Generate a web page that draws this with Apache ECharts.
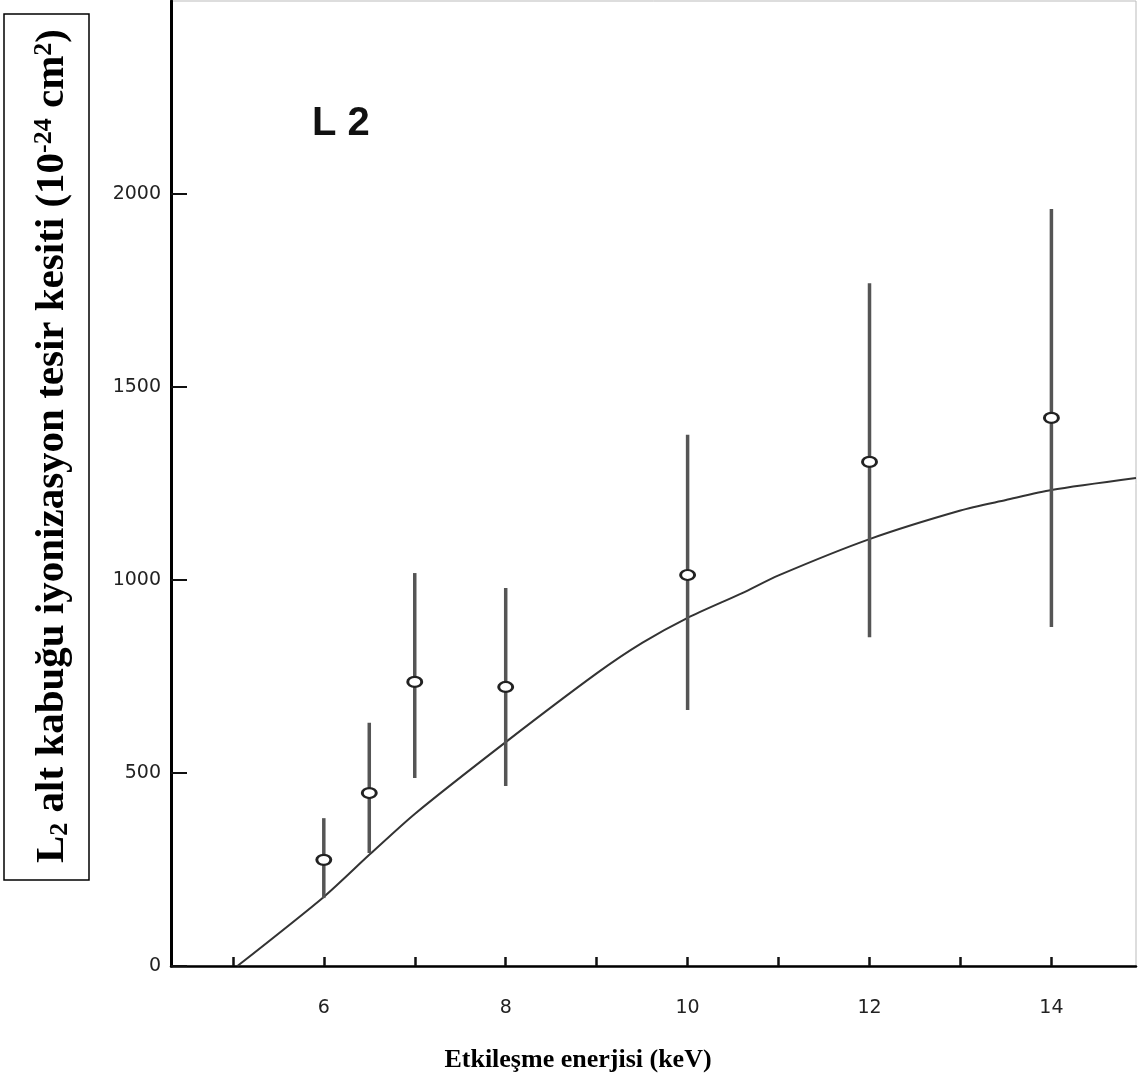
<!DOCTYPE html>
<html>
<head>
<meta charset="utf-8">
<script src="https://cdn.jsdelivr.net/npm/echarts@6/dist/echarts.min.js"></script>
<style>html,body{margin:0;padding:0;background:#fff;}#c{width:1138px;height:1086px;}</style>
</head>
<body>
<div id="c"></div>
<script>
// Measured points (energy keV, cross section 10^-24 cm^2)
var energies = [6, 6.5, 7, 8, 10, 12, 14];
var values   = [275, 448, 736, 723, 1013, 1306, 1420];
var errLow   = [176, 293, 487, 466, 663, 852, 878];
var errHigh  = [383, 630, 1018, 979, 1376, 1769, 1961];

// Theoretical curve
var curveX = [5.05, 6, 6.5, 7, 8, 9, 9.5, 10, 10.6, 11, 12, 13, 13.5, 14, 14.93];
var curveY = [0, 179, 288, 394, 580, 758, 837, 902, 966, 1012, 1106, 1180, 1207, 1233, 1264];

// Tick labels
var xTickValues = [5, 6, 7, 8, 9, 10, 11, 12, 13, 14];
var xLabelValues = [6, 8, 10, 12, 14];
var yTickValues = [0, 500, 1000, 1500, 2000];

var pointData = energies.map(function (e, i) { return [e, values[i]]; });
var errData = energies.map(function (e, i) { return [e, errLow[i], errHigh[i]]; });
var curveData = curveX.map(function (e, i) { return [e, curveY[i]]; });

var chart = echarts.init(document.getElementById('c'));
chart.setOption({
  animation: false,
  backgroundColor: '#fff',
  grid: { left: 171, right: 2, top: 1, bottom: 120, show: true, borderColor: '#bbb', borderWidth: 1 },
  xAxis: {
    type: 'value', min: 4.32, max: 14.93,
    splitLine: { show: false },
    axisLine: { show: true, onZero: false, lineStyle: { color: '#000', width: 2.5 } },
    axisTick: { show: true, inside: true, length: 9, customValues: xTickValues, lineStyle: { color: '#111', width: 2.5 } },
    axisLabel: { customValues: xLabelValues, margin: 33, fontFamily: 'DejaVu Sans', fontSize: 19, color: '#222',
                 formatter: function (v) { return String(v); } }
  },
  yAxis: {
    type: 'value', min: 0, max: 2500,
    splitLine: { show: false },
    axisLine: { show: true, lineStyle: { color: '#000', width: 3 } },
    axisTick: { show: true, inside: true, length: 16, customValues: yTickValues, lineStyle: { color: '#111', width: 2 } },
    axisLabel: { customValues: yTickValues, margin: 10, fontFamily: 'DejaVu Sans', fontSize: 19, color: '#222',
                 formatter: function (v) { return String(v); } }
  },
  series: [
    {
      type: 'line', data: curveData, smooth: 0.25, showSymbol: false,
      lineStyle: { color: '#333', width: 2 }, z: 2
    },
    {
      type: 'custom', data: errData, z: 3,
      renderItem: function (params, api) {
        var x = api.value(0);
        var p1 = api.coord([x, api.value(1)]);
        var p2 = api.coord([x, api.value(2)]);
        return { type: 'line', shape: { x1: p1[0], y1: p1[1], x2: p2[0], y2: p2[1] },
                 style: { stroke: '#555', lineWidth: 3.5 } };
      }
    },
    {
      type: 'scatter', data: pointData, symbol: 'circle', symbolSize: [14, 10], z: 4,
      itemStyle: { color: '#fff', borderColor: '#222', borderWidth: 2.5, opacity: 1 }
    }
  ],
  graphic: [
    { type: 'text', left: 312, top: 104, style: { text: 'L 2', font: 'bold 40px "Liberation Sans"', fill: '#111' } },
    { type: 'rect', shape: { x: 4, y: 14, width: 85, height: 866 }, style: { fill: 'none', stroke: '#000', lineWidth: 1.5 } },
    { type: 'text', x: 52, y: 446, rotation: Math.PI / 2,
      style: {
        text: 'L{sub|2} alt kabuğu iyonizasyon tesir kesiti (10{sup|-24} cm{sup|2})',
        font: 'bold 41px "Liberation Serif"', fill: '#000', align: 'center', verticalAlign: 'middle',
        rich: {
          sub: { font: 'bold 26px "Liberation Serif"', fill: '#000', verticalAlign: 'bottom', padding: [16, 0, 0, 0] },
          sup: { font: 'bold 26px "Liberation Serif"', fill: '#000', verticalAlign: 'top', padding: [0, 0, 16, 0] }
        }
      } },
    { type: 'text', x: 578, y: 1060,
      style: { text: 'Etkileşme enerjisi (keV)', font: 'bold 26px "Liberation Serif"', fill: '#000', align: 'center', verticalAlign: 'middle' } }
  ]
});
</script>
</body>
</html>
